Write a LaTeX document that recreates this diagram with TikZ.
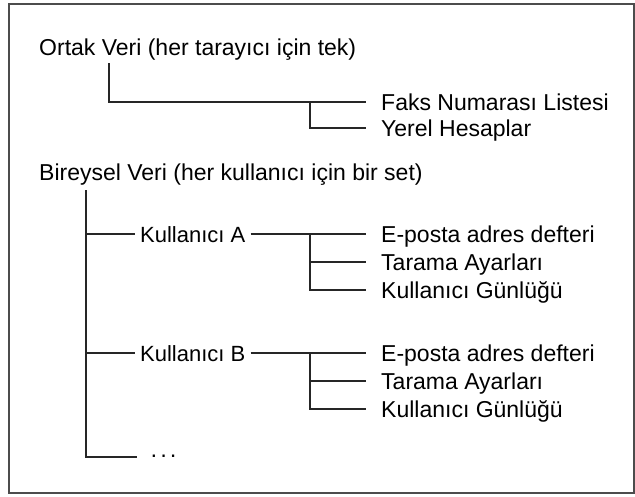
\documentclass[tikz,border=0pt]{standalone}
\usepackage{fontspec}
\setmainfont{Liberation Sans}
\usetikzlibrary{positioning}

\tikzset{
  lbl/.style={anchor=west,inner sep=0pt,text height=16pt,text depth=0pt,
    font=\fontsize{23}{27}\selectfont},
  usr/.style={lbl,inner xsep=5pt,font=\fontsize{22}{26}\selectfont},
  leaf/.style={lbl,inner xsep=15pt},
  tree/.style={line width=1.3pt,black!85}
}

\begin{document}
\begin{tikzpicture}[x=1pt,y=-1pt]
\useasboundingbox (0,0) rectangle (635,496);
\draw[line width=2pt,black!70] (9,4) rectangle (634,493);

% common data, one set per scanner
\node[lbl] (ortak) at (39,47) {Ortak Veri (her tarayıcı için tek)};
\coordinate (o0) at (109,63);
\coordinate (ok) at (310,102);
\node[leaf] (faks) at (366,102) {Faks Numarası Listesi};
\node[leaf] (yerel) at (366,128) {Yerel Hesaplar};
\draw[tree] (o0) |- (faks.west);
\draw[tree] (ok) |- (yerel.west);

% per-user data
\node[lbl] (birey) at (39,172) {Bireysel Veri (her kullanıcı için bir set)};
\coordinate (b0) at (86,190);
\node[lbl,inner xsep=13pt,text height=10pt] (dots) at (137,457) {·\kern2pt·\kern2pt·};
\draw[tree] (b0) |- (dots.west);

\begin{scope}
  \node[usr] (ua) at (135,234) {Kullanıcı A};
  \coordinate (ka) at (310,234);
  \node[leaf] (ea) at (366,234) {E-posta adres defteri};
  \node[leaf] (ta) at (366,262) {Tarama Ayarları};
  \node[leaf] (ga) at (366,290) {Kullanıcı Günlüğü};
  \draw[tree] (b0 |- ua.west) -- (ua.west);
  \draw[tree] (ua.east) -- (ea.west);
  \draw[tree] (ka |- ta.west) -- (ta.west);
  \draw[tree] (ka) |- (ga.west);
\end{scope}

\begin{scope}
  \node[usr] (ub) at (135,353) {Kullanıcı B};
  \coordinate (kb) at (310,353);
  \node[leaf] (eb) at (366,353) {E-posta adres defteri};
  \node[leaf] (tb) at (366,381) {Tarama Ayarları};
  \node[leaf] (gb) at (366,409) {Kullanıcı Günlüğü};
  \draw[tree] (b0 |- ub.west) -- (ub.west);
  \draw[tree] (ub.east) -- (eb.west);
  \draw[tree] (kb |- tb.west) -- (tb.west);
  \draw[tree] (kb) |- (gb.west);
\end{scope}
\end{tikzpicture}
\end{document}
